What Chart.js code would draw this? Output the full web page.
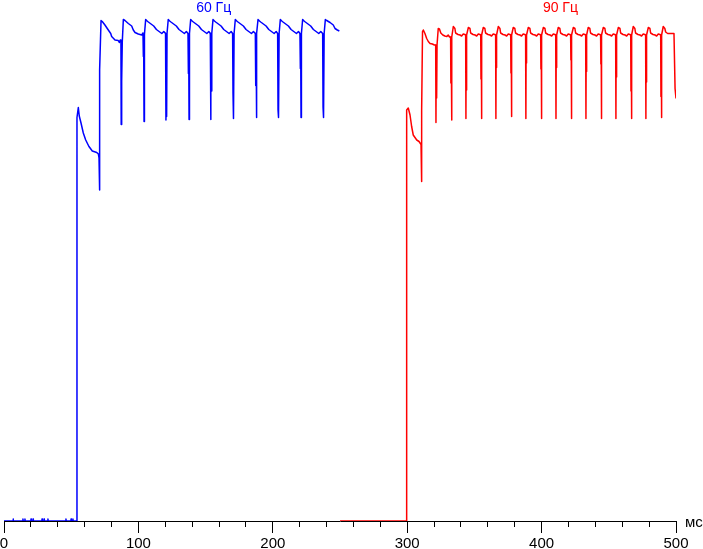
<!DOCTYPE html>
<html>
<head>
<meta charset="utf-8">
<script src="https://cdn.jsdelivr.net/npm/chart.js@4/dist/chart.umd.min.js"></script>
<style>
  html, body { margin: 0; padding: 0; background: #fff; }
  #chart { display: block; }
</style>
</head>
<body>
<canvas id="chart" width="703" height="549"></canvas>
<script>
// Brightness vs time, 60 Hz run then 90 Hz run (x in ms, y in % of full level)
const xTicks = [0, 100, 200, 300, 400, 500];
const xUnit = 'мс';
const seriesNames = ['60 Гц', '90 Гц'];

const blue60 = [
  [0,0],[6.7,0],[6.8,0.4],[7.0,0],[14.0,0],[14.1,0.4],[14.3,0],[15.5,0],[15.6,0.4],[15.8,0],
  [20.0,0],[20.1,0.4],[20.3,0],[21.5,0],[21.6,0.4],[21.8,0],[28.2,0],[28.3,0.4],[28.5,0],
  [29.7,0],[29.8,0.4],[30.0,0],[32.6,0],[32.7,0.4],[32.9,0],[46.0,0],[46.1,0.4],[46.3,0],
  [49.8,0],[49.9,0.4],[50.1,0],[51.2,0],[51.3,0.4],[51.5,0],[54.1,0],
  [54.3,80.7],[55.3,82.7],[56.0,81.0],[57.3,79.6],[59.0,77.6],[60.8,76.2],[63.2,74.9],
  [65.7,74.0],[69.0,73.7],[70.2,73.4],[70.7,72.6],[70.9,66.2],[71.4,90.2],[72.2,100.1],
  [73.1,99.9],[75.1,99.2],[77.6,98.2],[79.4,97.5],[80.1,96.9],[82.6,96.2],[85.0,96.1],
  [85.8,95.7],[86.5,96.2],[87.0,95.8],[87.2,79.3],[87.4,95.6],[87.7,88.0],[88.0,95.8],[88.8,100.3],
  [90.0,100.1],[92.5,99.5],[95.0,99.0],[96.2,98.2],[97.5,97.7],[99.9,97.4],[102.5,97.2],
  [103.4,97.6],[103.7,92.9],[103.9,97.3],[104.2,79.9],[104.5,97.3],[105.4,100.3],
  [106.5,100.0],[107.4,99.8],[109.4,99.4],[111.4,99.0],[113.4,98.3],[115.4,97.9],[117.4,97.5],
  [118.9,97.9],[120.2,97.5],[120.5,80.2],[120.7,97.4],[121.0,80.9],[121.3,97.5],[122.2,100.3],
  [123.3,100.0],[124.2,99.8],[126.2,99.4],[128.2,99.0],[130.2,98.3],[132.2,97.9],[134.2,97.5],
  [135.7,97.9],[136.9,97.5],[137.2,89.5],[137.4,97.4],[137.7,80.3],[138.0,97.5],[138.9,100.3],
  [140.0,100.0],[140.9,99.8],[142.9,99.4],[144.9,99.0],[146.9,98.3],[148.9,97.9],[150.9,97.5],
  [152.4,97.9],[153.5,97.5],[153.8,80.3],[154.0,97.4],[154.3,86.0],[154.6,97.5],[155.5,100.3],
  [156.6,100.0],[157.5,99.8],[159.5,99.4],[161.5,99.0],[163.5,98.3],[165.5,97.9],[167.5,97.5],
  [169.0,97.9],[170.1,97.5],[170.4,85.5],[170.6,97.4],[170.9,80.5],[171.2,97.5],[172.1,100.3],
  [173.2,100.0],[174.1,99.8],[176.1,99.4],[178.1,99.0],[180.1,98.3],[182.1,97.9],[184.1,97.5],
  [185.6,97.9],[187.0,97.5],[187.3,87.1],[187.5,97.4],[187.8,80.7],[188.1,97.5],[189.0,100.3],
  [190.1,100.0],[191.0,99.8],[193.0,99.4],[195.0,99.0],[197.0,98.3],[199.0,97.9],[201.0,97.5],
  [202.5,97.9],[203.6,97.5],[203.9,82.2],[204.1,97.4],[204.4,80.7],[204.7,97.5],[205.6,100.3],
  [206.7,100.0],[207.6,99.8],[209.6,99.4],[211.6,99.0],[213.6,98.3],[215.6,97.9],[217.6,97.5],
  [219.1,97.9],[220.2,97.5],[220.5,90.5],[220.7,97.4],[221.0,80.7],[221.3,97.5],[222.2,100.3],
  [223.3,100.0],[224.2,99.8],[226.2,99.4],[228.2,99.0],[230.2,98.3],[232.2,97.9],[234.2,97.5],
  [235.7,97.9],[237.1,97.5],[237.4,82.7],[237.6,97.4],[237.9,80.7],[238.2,97.5],[239.1,100.3],
  [240.1,100.1],[242.6,99.7],[245.0,99.2],[246.3,98.5],[248.0,98.2],[249.5,98.0]
];

const red90 = [
  [250,0],[299.4,0],[299.6,82.2],[300.8,82.6],[302.1,81.2],[303.3,78.9],[304.5,77.2],[307.1,76.2],
  [308.8,75.9],[310.3,75.3],[310.5,67.9],[311.0,82.2],[311.4,97.9],[312.0,98.2],
  [313.2,97.5],[314.5,96.5],[315.7,95.9],[317.0,95.5],[318.7,95.4],[320.2,95.2],[321.2,95.2],
  [321.4,79.7],[321.6,95.0],[321.9,84.6],[322.2,95.2],[323.1,98.5],
  [324.0,98.4],[325.0,97.6],[326.5,97.2],[328.0,97.0],[329.5,96.9],[330.5,97.2],[331.5,96.8],
  [332.3,96.8],[332.5,87.6],[332.7,96.7],[333.0,80.2],[333.3,96.8],[334.3,98.9],
  [335.5,98.5],[336.0,97.6],[337.8,97.3],[339.3,97.2],[340.5,97.0],[341.7,97.4],[342.9,97.3],
  [343.5,97.2],[343.7,80.5],[343.9,97.1],[344.1,86.2],[344.3,97.2],[345.5,98.7],
  [346.7,98.5],[347.2,97.6],[349.0,97.3],[350.5,97.2],[351.7,97.0],[352.9,97.4],[354.1,97.3],
  [354.7,97.2],[354.9,88.4],[355.1,97.1],[355.3,80.5],[355.5,97.2],[356.6,98.7],
  [357.8,98.5],[358.3,97.6],[360.1,97.3],[361.6,97.2],[362.8,97.0],[364.0,97.4],[365.2,97.3],
  [365.8,97.2],[366.0,80.5],[366.2,97.1],[366.4,90.7],[366.6,97.2],[367.8,98.9],
  [369.0,98.5],[369.5,97.6],[371.3,97.3],[372.8,97.2],[374.0,97.0],[375.2,97.4],[376.4,97.3],
  [377.0,97.2],[377.2,89.6],[377.4,97.1],[377.6,80.9],[377.8,97.2],[378.9,98.7],
  [380.1,98.5],[380.6,97.6],[382.4,97.3],[383.9,97.2],[385.1,97.0],[386.3,97.4],[387.5,97.3],
  [388.1,97.2],[388.3,80.5],[388.5,97.1],[388.7,91.6],[388.9,97.2],[390.1,98.7],
  [391.3,98.5],[391.8,97.6],[393.6,97.3],[395.1,97.2],[396.3,97.0],[397.5,97.4],[398.7,97.3],
  [399.3,97.2],[399.5,90.4],[399.7,97.1],[399.9,80.5],[400.1,97.2],[401.3,98.7],
  [402.5,98.5],[403.0,97.6],[404.8,97.3],[406.3,97.2],[407.5,97.0],[408.7,97.4],[409.9,97.3],
  [410.5,97.2],[410.7,80.5],[410.9,97.1],[411.1,90.7],[411.3,97.2],[412.4,98.7],
  [413.6,98.5],[414.1,97.6],[415.9,97.3],[417.4,97.2],[418.6,97.0],[419.8,97.4],[421.0,97.3],
  [421.6,97.2],[421.8,92.2],[422.0,97.1],[422.2,80.5],[422.4,97.2],[423.6,98.7],
  [424.8,98.5],[425.3,97.6],[427.1,97.3],[428.6,97.2],[429.8,97.0],[431.0,97.4],[432.2,97.3],
  [432.8,97.2],[433.0,80.5],[433.2,97.1],[433.4,89.9],[433.6,97.2],[434.7,98.7],
  [435.9,98.5],[436.4,97.6],[438.2,97.3],[439.7,97.2],[440.9,97.0],[442.1,97.4],[443.3,97.3],
  [443.9,97.2],[444.1,91.4],[444.3,97.1],[444.5,80.5],[444.7,97.2],[445.9,98.7],
  [447.1,98.5],[447.6,97.6],[449.4,97.3],[450.9,97.2],[452.1,97.0],[453.3,97.4],[454.5,97.3],
  [455.1,97.2],[455.3,80.5],[455.5,97.1],[455.7,88.8],[455.9,97.2],[457.1,98.7],
  [458.3,98.5],[458.8,97.6],[460.6,97.3],[462.1,97.2],[463.3,97.0],[464.5,97.4],[465.7,97.3],
  [466.3,97.2],[466.5,86.0],[466.7,97.1],[466.9,80.5],[467.1,97.2],[468.2,98.9],
  [469.4,98.5],[469.9,97.6],[471.7,97.3],[473.2,97.2],[474.4,97.0],[475.6,97.4],[476.8,97.3],
  [477.4,97.2],[477.6,80.5],[477.8,97.1],[478.0,87.8],[478.2,97.2],[479.4,98.7],
  [480.6,98.5],[481.1,97.6],[482.9,97.3],[484.4,97.2],[485.6,97.0],[486.8,97.4],[488.0,97.3],
  [488.6,97.2],[488.8,84.9],[489.0,97.1],[489.2,80.7],[489.4,97.2],[490.5,98.9],
  [491.7,98.5],[492.3,97.8],[493.8,97.5],[495.5,97.5],[498.5,97.5],[499.3,86.5],[500,84.5]
];

const FONT = "'Liberation Sans', Arial, sans-serif";

const overlay = {
  id: 'overlay',
  afterDraw(chart) {
    const { ctx, chartArea, scales: { x } } = chart;
    ctx.save();
    // longer marks for the labelled ticks
    ctx.strokeStyle = '#000';
    ctx.lineWidth = 1;
    xTicks.forEach(v => {
      const px = Math.round(x.getPixelForValue(v) - 0.5) + 0.5;
      ctx.beginPath();
      ctx.moveTo(px, chartArea.bottom);
      ctx.lineTo(px, chartArea.bottom + 12);
      ctx.stroke();
    });
    // unit label at the end of the axis
    ctx.fillStyle = '#000';
    ctx.font = '15px ' + FONT;
    ctx.textAlign = 'left';
    ctx.textBaseline = 'alphabetic';
    ctx.fillText(xUnit, chartArea.right + 9, chartArea.bottom + 6);
    // series names above each trace
    ctx.font = '14px ' + FONT;
    ctx.textAlign = 'center';
    ctx.fillStyle = '#0000ff';
    ctx.fillText(seriesNames[0], x.getPixelForValue(156), 12);
    ctx.fillStyle = '#ff0000';
    ctx.fillText(seriesNames[1], x.getPixelForValue(414), 12);
    ctx.restore();
  }
};

new Chart(document.getElementById('chart'), {
  type: 'scatter',
  data: {
    datasets: [
      {
        label: seriesNames[0],
        data: blue60.map(p => ({ x: p[0], y: p[1] })),
        showLine: true,
        borderColor: '#0000ff',
        borderWidth: 1.5,
        borderJoinStyle: 'round',
        pointRadius: 0,
        tension: 0
      },
      {
        label: seriesNames[1],
        data: red90.map(p => ({ x: p[0], y: p[1] })),
        showLine: true,
        borderColor: '#ff0000',
        borderWidth: 1.5,
        borderJoinStyle: 'round',
        pointRadius: 0,
        tension: 0
      }
    ]
  },
  options: {
    responsive: false,
    devicePixelRatio: 1,
    animation: false,
    events: [],
    layout: { padding: { left: 4, right: 27, top: 11, bottom: 0 } },
    plugins: { legend: { display: false }, tooltip: { enabled: false } },
    scales: {
      x: {
        type: 'linear',
        min: 0,
        max: 500,
        afterFit(scale) {
          scale.height = 28;
          scale.paddingLeft = 0;
          scale.paddingRight = 0;
        },
        border: { display: true, color: '#000', width: 1 },
        grid: { display: true, drawOnChartArea: false, drawTicks: true, tickLength: 6, color: '#000' },
        ticks: {
          stepSize: 20,
          autoSkip: false,
          maxRotation: 0,
          padding: 8,
          color: '#000',
          font: { family: FONT, size: 15 },
          callback: v => (xTicks.includes(v) ? String(v) : '')
        }
      },
      y: { display: false, min: 0, max: 102 }
    }
  },
  plugins: [overlay]
});
</script>
</body>
</html>
